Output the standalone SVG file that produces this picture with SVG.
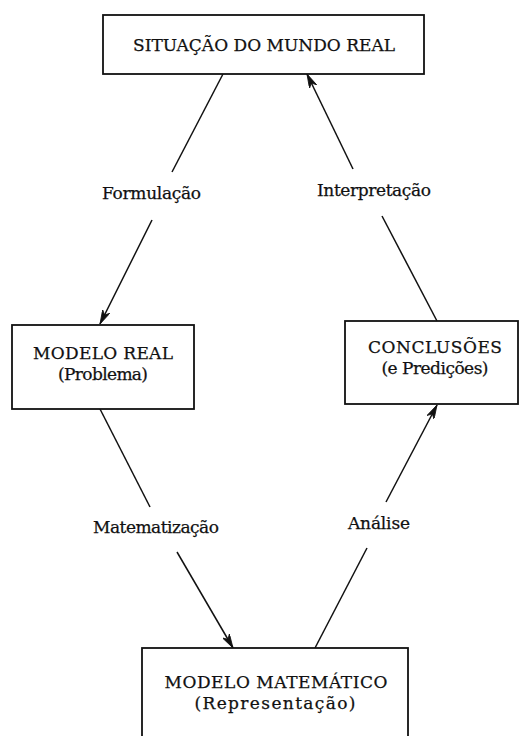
<svg xmlns="http://www.w3.org/2000/svg" width="520" height="736" viewBox="0 0 520 736">
<style>
.box{fill:#fff;stroke:#111;stroke-width:1.8}
.t{font-family:"DejaVu Serif","Liberation Serif",serif;font-size:17px;fill:#111;stroke:#111;stroke-width:0.25;text-anchor:middle}
.c{stroke:#111;stroke-width:1.5;fill:none}
</style>
<defs>
<marker id="ah" viewBox="0 0 14 8" refX="14" refY="4" markerWidth="14" markerHeight="8" markerUnits="userSpaceOnUse" orient="auto">
<path d="M0,0 L14,4 L0,8 L4,4 z" fill="#111" stroke="#111" stroke-width="0.8"/>
</marker>
</defs>
<rect width="520" height="736" fill="#fff"/>
<g id="connectors">
<line class="c" x1="223" y1="74" x2="172" y2="172"/>
<line class="c" x1="152" y1="220" x2="100" y2="324" marker-end="url(#ah)"/>
<line class="c" x1="437" y1="321" x2="382" y2="216"/>
<line class="c" x1="353" y1="169" x2="307" y2="74" marker-end="url(#ah)"/>
<line class="c" x1="100" y1="409" x2="150" y2="507"/>
<line class="c" x1="177" y1="552" x2="233" y2="648" marker-end="url(#ah)"/>
<line class="c" x1="315" y1="648" x2="367" y2="548"/>
<line class="c" x1="386" y1="502" x2="437" y2="405" marker-end="url(#ah)"/>
<text class="t" x="151.5" y="199" textLength="99">Formulação</text>
<text class="t" x="374" y="196" textLength="114">Interpretação</text>
<text class="t" x="156" y="533" textLength="126">Matematização</text>
<text class="t" x="379" y="529" textLength="62">Análise</text>
</g>
<g id="situacao">
<rect class="box" x="103" y="15" width="321" height="59"/>
<text class="t" x="264" y="51" textLength="262">SITUAÇÃO DO MUNDO REAL</text>
</g>
<g id="modelo-real">
<rect class="box" x="12" y="325" width="182" height="84"/>
<text class="t" x="103" y="359" textLength="140">MODELO REAL</text>
<text class="t" x="103" y="380" textLength="90">(Problema)</text>
</g>
<g id="conclusoes">
<rect class="box" x="345" y="321" width="173" height="83"/>
<text class="t" x="435" y="353" textLength="134">CONCLUSÕES</text>
<text class="t" x="435" y="374" textLength="107">(e Predições)</text>
</g>
<g id="modelo-matematico">
<rect class="box" x="142" y="648" width="266" height="100"/>
<text class="t" x="276" y="688" textLength="223">MODELO MATEMÁTICO</text>
<text class="t" x="275" y="709" textLength="161">(Representação)</text>
</g>
</svg>
